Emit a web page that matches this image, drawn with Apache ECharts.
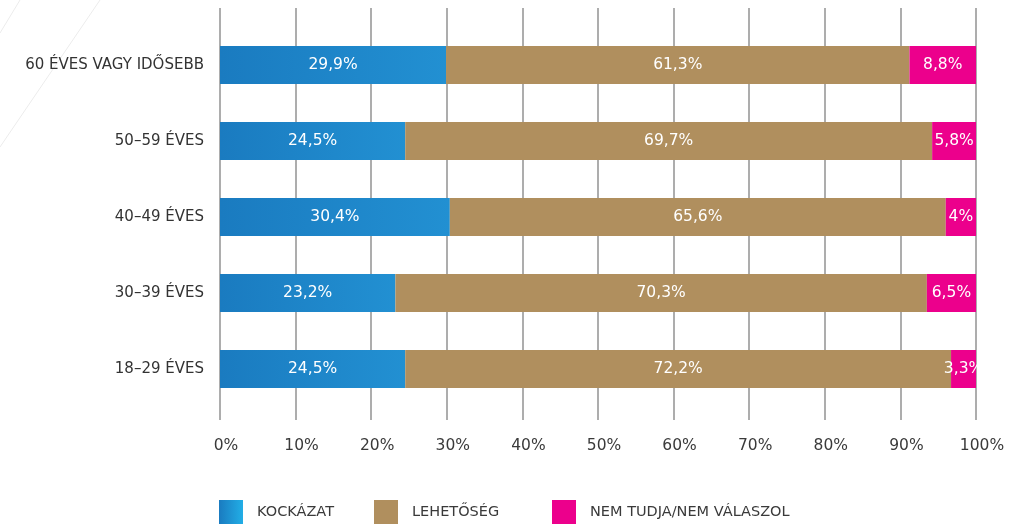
<!DOCTYPE html>
<html><head><meta charset="utf-8">
<script src="https://cdn.jsdelivr.net/npm/echarts@6/dist/echarts.min.js"></script>
<style>html,body{margin:0;padding:0;background:#fff}#c{width:1009px;height:527px}</style>
</head><body><div id="c"></div>
<script>
const categories = ['18–29 ÉVES','30–39 ÉVES','40–49 ÉVES','50–59 ÉVES','60 ÉVES VAGY IDŐSEBB'];
const seriesNames = ['KOCKÁZAT','LEHETŐSÉG','NEM TUDJA/NEM VÁLASZOL'];
const kockazat = [24.5, 23.2, 30.4, 24.5, 29.9];
const lehetoseg = [72.2, 70.3, 65.6, 69.7, 61.3];
const nemTudja = [3.3, 6.5, 4.0, 5.8, 8.8];
const xTicks = [0,10,20,30,40,50,60,70,80,90,100];

const font = '"DejaVu Sans", "Noto Sans", sans-serif';
const blueGrad = new echarts.graphic.LinearGradient(0,0,1,0,[{offset:0,color:'#1a7bc0'},{offset:1,color:'#2290d2'}]);
const legendGrad = new echarts.graphic.LinearGradient(0,0,1,0,[{offset:0,color:'#1a7bc0'},{offset:1,color:'#22aee6'}]);
const fmt = p => String(p.value).replace('.', ',') + '%';
const lbl = {show:true, position:'inside', color:'#fff', fontSize:15.5, fontFamily:font, formatter:fmt};
const legendLefts = [219, 374, 552];

const chart = echarts.init(document.getElementById('c'));
chart.setOption({
  animation:false,
  graphic:[
    {type:'line', shape:{x1:0,y1:147,x2:100,y2:0}, style:{stroke:'#ececec', lineWidth:1}, z:-10},
    {type:'line', shape:{x1:0,y1:33,x2:20,y2:0}, style:{stroke:'#ececec', lineWidth:1}, z:-10}
  ],
  legend: seriesNames.map((n,i)=>({
    data:[i===0 ? {name:n, itemStyle:{color:legendGrad}} : n],
    left:legendLefts[i], top:500, itemWidth:24, itemHeight:24, icon:'rect', padding:0,
    textStyle:{fontSize:14.5, color:'#3a3a3a', fontFamily:font, padding:[0,0,0,9]}
  })),
  grid:[
    {left:220, right:33, top:27, bottom:120},
    {left:220, right:33, top:8, bottom:107}
  ],
  xAxis:[
    {type:'value', gridIndex:0, min:0, max:100, show:false},
    {type:'value', gridIndex:1, min:0, max:100, interval:10,
     axisLine:{show:false}, axisTick:{show:false},
     splitLine:{show:true, lineStyle:{color:'#adadad', width:2}},
     axisLabel:{formatter:v=>v+'%', fontSize:15.5, color:'#3a3a3a', fontFamily:font, margin:18, padding:[0,0,0,12]}}
  ],
  yAxis:[
    {type:'category', gridIndex:0, data:categories,
     axisLine:{show:false}, axisTick:{show:false},
     axisLabel:{fontSize:15, color:'#333', fontFamily:font, margin:16}},
    {type:'category', gridIndex:1, data:[''], show:false}
  ],
  series:[
    {name:seriesNames[0], type:'bar', stack:'a', data:kockazat, barWidth:38, itemStyle:{color:blueGrad}, label:lbl},
    {name:seriesNames[1], type:'bar', stack:'a', data:lehetoseg, barWidth:38, itemStyle:{color:'#b08f5e'}, label:lbl},
    {name:seriesNames[2], type:'bar', stack:'a', data:nemTudja, barWidth:38, itemStyle:{color:'#ec008c'}, label:lbl}
  ]
});
</script></body></html>
